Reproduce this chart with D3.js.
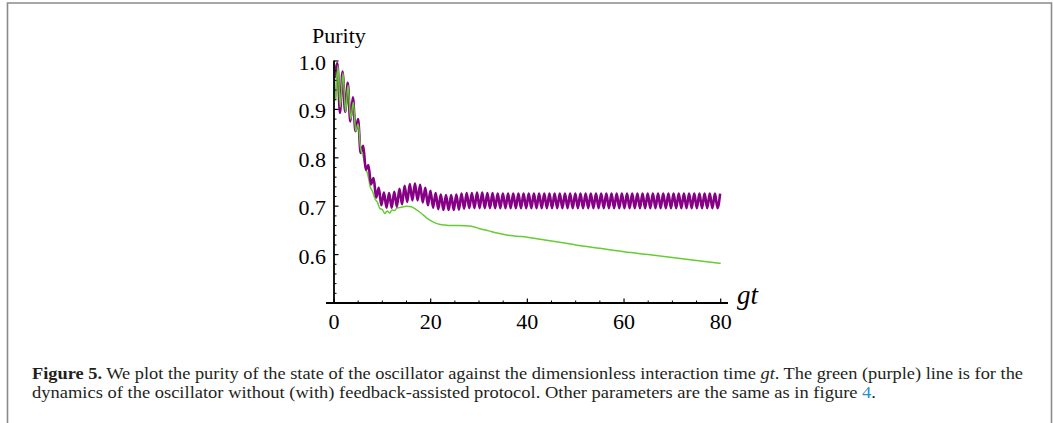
<!DOCTYPE html>
<html><head><meta charset="utf-8">
<script src="https://cdn.jsdelivr.net/npm/d3@7"></script>
<style>html,body{margin:0;padding:0;background:#fff;}svg{display:block;}</style>
</head><body>
<svg id="chart" width="1053" height="423"></svg>
<script>
// ---- data ----
const xTicks = [0, 20, 40, 60, 80];
const yTicks = [0.6, 0.7, 0.8, 0.9, 1.0];
const yTickLabels = ["0.6", "0.7", "0.8", "0.9", "1.0"];

// green: without feedback
const greenT = [0, 0.35, 0.8, 1.3, 1.85, 2.4, 2.9, 3.45, 4.0, 4.5, 5.0, 5.5, 6.0, 6.5, 7.0, 7.5, 8.0, 8.5, 9.0, 9.5, 10.0, 10.5, 11.0, 11.5, 12.0, 12.5, 13, 14, 15, 16, 17, 18, 19, 20, 21, 22, 23, 24, 26, 28, 29, 30, 32, 34, 36, 38, 40, 45, 50, 55, 60, 65, 70, 75, 80];
const greenV = [1.0, 0.92, 0.99, 0.905, 0.975, 0.895, 0.95, 0.88, 0.915, 0.855, 0.87, 0.82, 0.805, 0.78, 0.765, 0.74, 0.73, 0.715, 0.708, 0.695, 0.693, 0.685, 0.69, 0.686, 0.692, 0.691, 0.696, 0.698, 0.700, 0.699, 0.693, 0.686, 0.677, 0.67, 0.665, 0.662, 0.661, 0.66, 0.66, 0.659, 0.657, 0.654, 0.649, 0.644, 0.64, 0.638, 0.636, 0.628, 0.62, 0.613, 0.606, 0.6, 0.594, 0.588, 0.582];

// purple: with feedback — alternating trough/peak values sampled every half period
const purpleStart = 0.165;
const purpleHalfPeriod = 0.535;
const purpleV = [
 0.965, 0.995, 0.893, 0.978, 0.895, 0.955, 0.875, 0.925, 0.855, 0.88,
 0.810, 0.825, 0.775, 0.785, 0.745, 0.758, 0.718, 0.738, 0.702, 0.728,
 0.697, 0.727, 0.697, 0.730, 0.699, 0.736, 0.704, 0.742, 0.709, 0.746,
 0.712, 0.747, 0.712, 0.744, 0.708, 0.738, 0.702, 0.732, 0.697, 0.727,
 0.694, 0.724, 0.692, 0.723, 0.692, 0.723, 0.692, 0.724, 0.693, 0.726,
 0.695, 0.727, 0.696, 0.727, 0.696, 0.728, 0.696, 0.728, 0.696, 0.727,
 0.696, 0.727, 0.696, 0.726, 0.696, 0.726, 0.696, 0.726, 0.696, 0.726,
 0.696, 0.726, 0.696, 0.726, 0.696, 0.726, 0.696, 0.726, 0.696, 0.726,
 0.696, 0.726, 0.696, 0.726, 0.696, 0.726, 0.696, 0.726, 0.696, 0.726,
 0.696, 0.726, 0.696, 0.726, 0.696, 0.726, 0.696, 0.726, 0.696, 0.726,
 0.696, 0.726, 0.696, 0.726, 0.696, 0.726, 0.696, 0.726, 0.696, 0.726,
 0.696, 0.726, 0.696, 0.726, 0.696, 0.726, 0.696, 0.726, 0.696, 0.726,
 0.696, 0.726, 0.696, 0.726, 0.696, 0.726, 0.696, 0.726, 0.696, 0.726,
 0.696, 0.726, 0.696, 0.726, 0.696, 0.726, 0.696, 0.726, 0.696, 0.726,
 0.696, 0.726, 0.696, 0.726, 0.696, 0.726, 0.696, 0.726, 0.696, 0.726
];

const captionLine1 = [
  {t: "Figure 5.", w: "bold"},
  {t: " We plot the purity of the state of the oscillator against the dimensionless interaction time "},
  {t: "gt", s: "italic"},
  {t: ". The green (purple) line is for the"}
];
const captionLine2 = [
  {t: "dynamics of the oscillator without (with) feedback-assisted protocol. Other parameters are the same as in figure "},
  {t: "4", c: "#2a8fcf"},
  {t: "."}
];

// ---- drawing ----
const svg = d3.select("#chart");
const serif = "'Liberation Serif', 'Times New Roman', serif";

// frame
svg.append("path")
  .attr("d", "M7.5,423 L7.5,3 L1051.5,3 L1051.5,423")
  .attr("fill", "none").attr("stroke", "#8a8a8a").attr("stroke-width", 1.6);

const x = d3.scaleLinear().domain([0, 80]).range([334, 720.7]);
const y = d3.scaleLinear().domain([0.5, 1.0]).range([303, 61]);

const g = svg.append("g");

// lines
const purpleData = purpleV.map((v, i) => [purpleStart + i * purpleHalfPeriod, v]);
const greenData = greenT.map((t, i) => [t, greenV[i]]);
const line = d3.line().x(d => x(d[0])).y(d => y(d[1])).curve(d3.curveMonotoneX);

g.append("path").datum(greenData)
  .attr("d", line).attr("fill", "none")
  .attr("stroke", "#66cc33").attr("stroke-width", 1.5);
g.append("path").datum(purpleData)
  .attr("d", line).attr("fill", "none")
  .attr("stroke", "#850085").attr("stroke-width", 2.6).attr("stroke-linejoin", "round");
// green drawn again on top at early times where it overlaps
g.append("path").datum(greenData.filter(d => d[0] <= 6))
  .attr("d", line).attr("fill", "none")
  .attr("stroke", "#66cc33").attr("stroke-width", 1.5);

// axes
const xAxisG = svg.append("g").attr("transform", `translate(0,${y(0.5)})`);
xAxisG.append("line").attr("x1", 326).attr("x2", 728).attr("stroke", "#000").attr("stroke-width", 1.8);
const xMinor = d3.range(0, 81, 5).filter(v => v % 20 !== 0);
xAxisG.selectAll(".xminor").data(xMinor).join("line")
  .attr("x1", d => x(d)).attr("x2", d => x(d)).attr("y1", 0).attr("y2", -2.5)
  .attr("stroke", "#000").attr("stroke-width", 1);
xAxisG.selectAll(".xmajor").data(xTicks).join("line")
  .attr("x1", d => x(d)).attr("x2", d => x(d)).attr("y1", 0).attr("y2", -4.5)
  .attr("stroke", "#000").attr("stroke-width", 1.2);
xAxisG.selectAll(".xlab").data(xTicks).join("text")
  .attr("x", d => x(d)).attr("y", 26).attr("text-anchor", "middle")
  .attr("font-family", serif).attr("font-size", 22).attr("fill", "#000")
  .text(d => d);

const yAxisG = svg.append("g").attr("transform", `translate(${x(0)},0)`);
yAxisG.append("line").attr("y1", y(1.0) - 0.5).attr("y2", y(0.5)).attr("stroke", "#000").attr("stroke-width", 1.8);
const yMinor = d3.range(0.52, 1.0, 0.02).filter(v => Math.abs(v * 10 - Math.round(v * 10)) > 0.01);
yAxisG.selectAll(".yminor").data(yMinor).join("line")
  .attr("y1", d => y(d)).attr("y2", d => y(d)).attr("x1", 0).attr("x2", 2.5)
  .attr("stroke", "#000").attr("stroke-width", 1);
yAxisG.selectAll(".ymajor").data(yTicks).join("line")
  .attr("y1", d => y(d)).attr("y2", d => y(d)).attr("x1", 0).attr("x2", 4.5)
  .attr("stroke", "#000").attr("stroke-width", 1.2);
yAxisG.selectAll(".ylab").data(yTicks).join("text")
  .attr("x", -8).attr("y", d => y(d) + 9).attr("text-anchor", "end")
  .attr("font-family", serif).attr("font-size", 22).attr("fill", "#000")
  .text((d, i) => yTickLabels[i]);

// axis labels
svg.append("text").attr("x", 312).attr("y", 43)
  .attr("font-family", serif).attr("font-size", 22).attr("fill", "#000").text("Purity");
svg.append("text").attr("x", 737).attr("y", 304)
  .attr("font-family", serif).attr("font-style", "italic").attr("font-size", 27).attr("fill", "#000").text("gt");

// caption
function caption(parts, yy, len) {
  const t = svg.append("text").attr("x", 32).attr("y", yy)
    .attr("font-family", serif).attr("font-size", 16.5).attr("fill", "#231f20")
    .attr("textLength", len).attr("lengthAdjust", "spacingAndGlyphs");
  parts.forEach(p => {
    const s = t.append("tspan").text(p.t);
    if (p.w) s.attr("font-weight", p.w);
    if (p.s) s.attr("font-style", p.s);
    if (p.c) s.attr("fill", p.c);
  });
}
caption(captionLine1, 379, 991);
caption(captionLine2, 398, 844);
</script>
</body></html>
